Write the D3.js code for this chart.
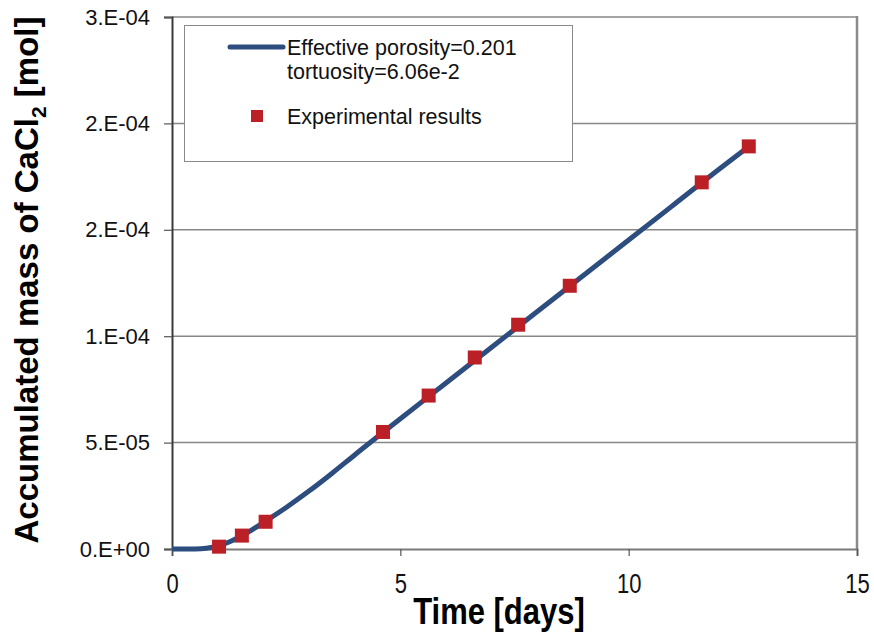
<!DOCTYPE html>
<html>
<head>
<meta charset="utf-8">
<script src="https://cdn.jsdelivr.net/npm/d3@7"></script>
<style>
  body { margin: 0; background: #fff; }
  text { font-family: Arial, "Liberation Sans", sans-serif; }
</style>
</head>
<body>
<svg id="chart"></svg>
<script>
const width = 874
const height = 633

// Data
const modelDays = [0, 0.25, 0.5, 0.75, 1.0, 1.25, 1.5, 1.75, 2.0, 2.5, 3.0, 3.5, 4.0, 5.0, 6.0, 7.0, 8.0, 9.0, 10.0, 11.0, 12.0, 12.63]
const modelMass = [0, 0, 0.05e-6, 0.4e-6, 1.4e-6, 3.3e-6, 5.9e-6, 9.0e-6, 1.24e-5, 1.95e-5, 2.72e-5, 3.55e-5, 4.42e-5, 6.12e-5, 7.8e-5, 9.48e-5, 1.116e-4, 1.284e-4, 1.452e-4, 1.62e-4, 1.788e-4, 1.891e-4]

const expDays = [1.03, 1.53, 2.05, 4.62, 5.62, 6.63, 7.58, 8.71, 11.60, 12.63]
const expMass = [1.1e-6, 6.3e-6, 1.28e-5, 5.50e-5, 7.21e-5, 9.0e-5, 1.054e-4, 1.237e-4, 1.723e-4, 1.892e-4]

const xTicks = [0, 5, 10, 15]
const yTicks = [0, 5e-5, 1e-4, 1.5e-4, 2e-4, 2.5e-4]
const yTickLabels = ["0.E+00", "5.E-05", "1.E-04", "2.E-04", "2.E-04", "3.E-04"]

const legendLine = ["Effective porosity=0.201", "tortuosity=6.06e-2"]
const legendMarker = "Experimental results"

// Layout
const plot = { left: 172, right: 857, top: 17, bottom: 549 }
const lineColor = "#2C4D7E"
const markerColor = "#BA2025"
const gridColor = "#878787"

const x = d3.scaleLinear().domain([0, 15]).range([plot.left, plot.right])
const y = d3.scaleLinear().domain([0, 2.5e-4]).range([plot.bottom, plot.top])

const svg = d3.select("#chart")
    .attr("width", width)
    .attr("height", height)

// gridlines
svg.append("g")
    .selectAll("line")
    .data(yTicks.slice(1))
    .enter()
    .append("line")
    .attr("x1", plot.left)
    .attr("x2", plot.right)
    .attr("y1", d => y(d))
    .attr("y2", d => y(d))
    .attr("stroke", gridColor)
    .attr("stroke-width", 1.5)

// right border
svg.append("line")
    .attr("x1", plot.right).attr("x2", plot.right)
    .attr("y1", plot.top - 1).attr("y2", plot.bottom)
    .attr("stroke", "#8a8a8a")
    .attr("stroke-width", 2.5)

// axes
const yAxis = d3.axisLeft(y)
    .tickValues(yTicks)
    .tickFormat((d, i) => yTickLabels[i])
    .tickSize(8)
    .tickPadding(14)

const xAxis = d3.axisBottom(x)
    .tickValues(xTicks)
    .tickSize(7)

const gy = svg.append("g")
    .attr("transform", `translate(${plot.left},0)`)
    .call(yAxis)
gy.select(".domain").attr("stroke", "#3a3a3a").attr("stroke-width", 2)
gy.selectAll(".tick line").attr("stroke", "#555").attr("stroke-width", 1.2)
gy.selectAll("text")
    .attr("font-size", 22)
    .attr("fill", "#111")
    .style("font-family", "Arial, 'Liberation Sans', sans-serif")

const gx = svg.append("g")
    .attr("transform", `translate(0,${plot.bottom})`)
    .call(xAxis)
gx.select(".domain").attr("stroke", "#7a7a7a").attr("stroke-width", 2)
gx.selectAll(".tick line").attr("stroke", "#555").attr("stroke-width", 1.2)
// tick labels in the reference look slightly stretched vertically
gx.selectAll("text")
    .attr("y", 0)
    .attr("dy", 0)
    .attr("transform", "translate(0,44) scale(1,1.22)")
    .attr("font-size", 22)
    .attr("fill", "#111")
    .style("font-family", "Arial, 'Liberation Sans', sans-serif")

// model curve
const modelData = modelDays.map((d, i) => ({ x: d, y: modelMass[i] }))
const line = d3.line()
    .x(d => x(d.x))
    .y(d => y(d.y))
    .curve(d3.curveMonotoneX)

svg.append("path")
    .datum(modelData)
    .attr("d", line)
    .attr("fill", "none")
    .attr("stroke", lineColor)
    .attr("stroke-width", 5)

// experimental markers
const ms = 14
svg.append("g")
    .selectAll("rect")
    .data(expDays.map((d, i) => ({ x: d, y: expMass[i] })))
    .enter()
    .append("rect")
    .attr("x", d => x(d.x) - ms / 2)
    .attr("y", d => y(d.y) - ms / 2)
    .attr("width", ms)
    .attr("height", ms)
    .attr("fill", markerColor)

// legend
const legend = svg.append("g")
legend.append("rect")
    .attr("x", 184.5).attr("y", 25.5)
    .attr("width", 388).attr("height", 136)
    .attr("fill", "#fff")
    .attr("stroke", "#8a8a8a")
    .attr("stroke-width", 1)
legend.append("line")
    .attr("x1", 230).attr("x2", 283)
    .attr("y1", 47).attr("y2", 47)
    .attr("stroke", lineColor)
    .attr("stroke-width", 5)
    .attr("stroke-linecap", "round")
legend.selectAll("text.l1")
    .data(legendLine)
    .enter()
    .append("text")
    .attr("x", 287)
    .attr("y", (d, i) => 55 + i * 24)
    .attr("font-size", 21.5)
    .attr("fill", "#111")
    .text(d => d)
legend.append("rect")
    .attr("x", 251).attr("y", 110)
    .attr("width", 12).attr("height", 12)
    .attr("fill", markerColor)
legend.append("text")
    .attr("x", 287)
    .attr("y", 124)
    .attr("font-size", 21.5)
    .attr("fill", "#111")
    .text(legendMarker)

// axis titles
svg.append("text")
    .attr("transform", "translate(499,624) scale(1,1.2)")
    .attr("text-anchor", "middle")
    .attr("font-size", 31)
    .attr("font-weight", "bold")
    .attr("fill", "#000")
    .text("Time [days]")

const yTitle = svg.append("text")
    .attr("transform", "translate(38,280) rotate(-90)")
    .attr("text-anchor", "middle")
    .attr("font-size", 33)
    .attr("font-weight", "bold")
    .attr("fill", "#000")
yTitle.append("tspan").text("Accumulated mass of CaCl")
yTitle.append("tspan").attr("font-size", 21).attr("dy", 8).text("2")
yTitle.append("tspan").attr("dy", -8).text(" [mol]")
</script>
</body>
</html>
